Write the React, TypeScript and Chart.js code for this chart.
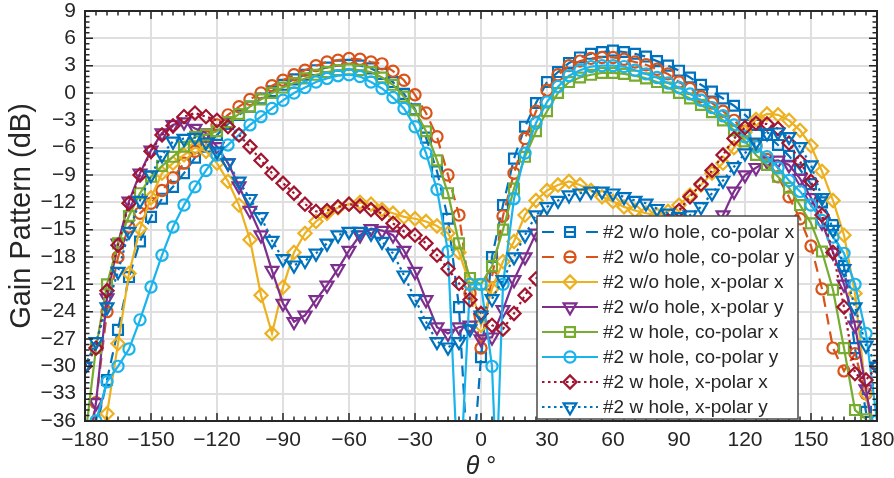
import React, { useEffect, useRef } from 'react';
import { Chart, registerables } from 'chart.js';

Chart.register(...registerables);

// ---------------- data ----------------
const theta = [
  -180, -175, -170, -165, -160, -155, -150, -145, -140, -135, -130, -125,
  -120, -115, -110, -105, -100, -95, -90, -85, -80, -75, -70, -65,
  -60, -55, -50, -45, -40, -35, -30, -25, -20, -15, -10, -5,
  0, 5, 10, 15, 20, 25, 30, 35, 40, 45, 50, 55,
  60, 65, 70, 75, 80, 85, 90, 95, 100, 105, 110, 115,
  120, 125, 130, 135, 140, 145, 150, 155, 160, 165, 170, 175,
  180,
];

const woCoX = [
  -39, -37, -31.5, -26, -20.2, -16.3, -13.6, -11.6, -10.3, -8.8, -7.1, -5.9,
  -4.6, -3.4, -2.4, -1.5, -0.6, 0.2, 0.9, 1.5, 2.0, 2.5, 2.8, 3.0,
  3.1, 3.0, 2.7, 2.1, 1.2, -0.1, -1.8, -4.9, -8.6, -13.8, -23.5, -45,
  -29, -18, -12.3, -7.2, -3.7, -1.1, 1.2, 2.3, 3.3, 3.9, 4.3, 4.5,
  4.65, 4.5, 4.3, 4.0, 3.5, 3.0, 2.45, 1.7, 0.9, 0.15, -0.6, -1.4,
  -2.4, -3.5, -4.6, -5.7, -6.9, -8.4, -10.0, -12.0, -14.5, -19, -28, -35,
  -39,
];

const woCoY = [
  -40, -34, -24, -18, -14.7, -13.2, -12.1, -10.7, -9.3, -7.7, -6.4, -4.8,
  -3.5, -2.4, -1.5, -0.7, 0.0, 0.8, 1.4, 2.0, 2.5, 3.0, 3.4, 3.6,
  3.8, 3.7, 3.4, 3.2, 2.4, 1.4, -0.2, -2.2, -4.8, -9.0, -13.4, -22,
  -28, -20.2, -13.5, -8.8, -5.0, -2.0, 0.3, 2.0, 3.0, 3.5, 3.8, 3.9,
  3.9, 3.7, 3.4, 3.1, 2.6, 2.1, 1.2, 0.5, -0.4, -1.1, -2.0, -3.0,
  -4.2, -5.7, -7.3, -9.2, -11.4, -13.8, -16.8, -21.5, -28, -30.5, -28.6, -33,
  -38,
];

const woXX = [
  -45, -40, -35.2, -27.5, -19.8, -14.9, -11.5, -8.8, -7.7, -6.8, -6.0, -6.4,
  -7.7, -9.7, -12.3, -16.1, -22.2, -26.4, -21.3, -17.5, -15.4, -14.1, -13.2, -12.6,
  -12.2, -12.0, -12.2, -12.8, -13.2, -13.6, -13.8, -14.1, -14.6, -15.4, -17.5, -21,
  -25.5, -21.5, -18.5, -16.3, -13.4, -11.8, -10.7, -10.1, -9.7, -10.1, -10.7, -11.4,
  -11.9, -12.5, -12.9, -13.2, -13.4, -13.0, -12.3, -11.2, -10.1, -8.8, -7.7, -6.0,
  -4.3, -2.9, -2.3, -2.4, -3.0, -4.1, -5.8, -8.6, -11.8, -15.6, -22, -33,
  -40,
];

const woXY = [
  -42, -34, -22.5, -16.5, -11.9, -8.8, -6.3, -4.4, -3.5, -3.2, -3.9, -4.4,
  -5.9, -7.7, -10.2, -12.9, -15.6, -19.5, -23.1, -25.1, -24.4, -22.7, -21.1, -19.3,
  -17.3, -15.6, -14.9, -15.1, -15.6, -17.3, -19.6, -22.7, -25.7, -26.4, -25.7, -25.5,
  -27, -26.8, -23.8, -20.5, -18, -15.4, -15, -16, -17.5, -19, -20.5, -22,
  -23.5, -25, -26, -26.5, -25.5, -23, -20.5, -18.5, -16.5, -15, -13.4, -10.8,
  -9.0, -8.2, -7.5, -7.4, -7.9, -9.4, -11.5, -14.2, -17.5, -21, -25.5, -32.5,
  -40,
];

const wCoX = [
  -38, -28, -21, -16.5, -13.5, -11, -9.2, -8.0, -7.0, -5.9, -4.8, -4.6,
  -4.2, -3.2, -2.3, -1.5, -0.7, 0.0, 0.6, 1.1, 1.6, 2.0, 2.3, 2.5,
  2.6, 2.5, 2.3, 1.7, 0.9, -0.4, -1.9, -4.2, -7.4, -11.0, -16.5, -20.3,
  -21, -19, -15, -10.5, -7.0, -4.2, -2.0, 0.0, 1.2, 1.7, 2.0, 2.2,
  2.2, 2.1, 1.9, 1.6, 1.2, 0.6, 0.0, -0.6, -1.3, -2.1, -3.0, -4.1,
  -5.3, -6.8, -7.9, -9.2, -10.4, -12.3, -14.3, -17.4, -21.6, -28, -34.8, -35.8,
  -40,
];

const wCoY = [
  -45, -36, -31.7, -30, -28.1, -24.9, -21.3, -17.8, -14.7, -12.3, -10.3, -8.5,
  -6.8, -5.7, -4.6, -3.5, -2.6, -1.7, -0.8, 0.0, 0.6, 1.2, 1.6, 1.9,
  2.0, 1.8, 1.2, 0.5, -0.5, -1.7, -3.7, -6.6, -10.6, -17.4, -45, -21,
  -21, -30, -21, -11.6, -6.6, -3.3, -1.0, 0.7, 1.9, 2.5, 2.9, 3.0,
  3.0, 2.9, 2.5, 2.1, 1.7, 1.1, 0.6, -0.1, -0.8, -1.6, -2.5, -3.5,
  -4.8, -5.9, -7.0, -8.2, -9.6, -10.8, -12.3, -14, -15.8, -17.6, -21, -26.4,
  -36,
];
// extra sample inside the null between 5 and 10 degrees (no marker)
const wCoYExtraTheta = [7];
const wCoYExtraVal = [-42];

const wXX = [
  -30, -28, -21.7, -16.7, -12.1, -9.0, -6.4, -4.6, -3.6, -2.6, -2.2, -2.6,
  -3.0, -3.7, -4.6, -5.9, -7.4, -8.8, -9.9, -11.0, -12.2, -13.0, -12.9, -12.5,
  -12.2, -12.4, -12.8, -13.2, -14.3, -15.2, -15.6, -16.5, -17.8, -19.3, -20.9, -22.7,
  -24.2, -25.5, -25.9, -24.2, -22.2, -20.4, -18.6, -18, -17.8, -17.8, -17.8, -17.7,
  -17.5, -17.2, -16.8, -16, -15, -14, -12.9, -11.4, -10.0, -8.5, -6.8, -5.0,
  -3.8, -3.3, -3.4, -3.9, -5.5, -7.5, -9.7, -13.4, -17.5, -23.5, -30.8, -31.5,
  -30,
];

const wXY = [
  -30, -27.3, -23.5, -19.6, -15.2, -11.8, -9.0, -6.8, -5.3, -5.0, -4.9, -5.4,
  -6.4, -7.7, -9.7, -11.6, -13.6, -16.2, -18.2, -18.9, -18.4, -17.6, -16.5, -15.6,
  -15.2, -15.2, -15.4, -16.3, -17.6, -20, -22.6, -25.1, -27.3, -27.9, -27.3, -25.9,
  -24.4, -22.6, -20.5, -18, -15.6, -13.4, -12.5, -11.8, -11.2, -11, -10.8, -10.8,
  -11, -11.4, -11.8, -12.1, -12.7, -13.2, -13.6, -13.4, -12.5, -11, -9.6, -8.1,
  -6.6, -5.4, -4.4, -4.3, -4.8, -5.9, -7.9, -11.5, -15, -19.3, -23.5, -27.7,
  -30,
];

const seriesLabels = [
  '#2 w/o hole, co-polar x',
  '#2 w/o hole, co-polar y',
  '#2 w/o hole, x-polar x',
  '#2 w/o hole, x-polar y',
  '#2 w hole, co-polar x',
  '#2 w hole, co-polar y',
  '#2 w hole, x-polar x',
  '#2 w hole, x-polar y',
];

const xTickValues = [-180, -150, -120, -90, -60, -30, 0, 30, 60, 90, 120, 150, 180];
const yTickValues = [9, 6, 3, 0, -3, -6, -9, -12, -15, -18, -21, -24, -27, -30, -33, -36];

// ---------------- styles ----------------
const FONT = '"Liberation Sans", Arial, Helvetica, sans-serif';
const AXIS_COLOR = '#262626';
const GRID_COLOR = '#dfdfdf';

type Marker = 'rect' | 'circle' | 'rectRot' | 'triDown';
type Dash = 'dashed' | 'solid' | 'dotted';

const styles: { color: string; marker: Marker; dash: Dash; r: number }[] = [
  { color: '#0072BD', marker: 'rect', dash: 'dashed', r: 7 },
  { color: '#D95319', marker: 'circle', dash: 'dashed', r: 5.6 },
  { color: '#EDB120', marker: 'rectRot', dash: 'solid', r: 6.6 },
  { color: '#7E2F8E', marker: 'triDown', dash: 'solid', r: 7.4 },
  { color: '#77AC30', marker: 'rect', dash: 'solid', r: 7 },
  { color: '#1AB4EC', marker: 'circle', dash: 'solid', r: 5.6 },
  { color: '#A2142F', marker: 'rectRot', dash: 'dotted', r: 6.6 },
  { color: '#0072BD', marker: 'triDown', dash: 'dotted', r: 7.4 },
];

const dataDash: Record<Dash, number[]> = { dashed: [11, 7], solid: [], dotted: [2.5, 3.5] };
const legendDash: Record<Dash, number[]> = { dashed: [12, 10], solid: [], dotted: [2.5, 3.5] };

function drawMarker(ctx: CanvasRenderingContext2D, m: Marker, x: number, y: number, r: number) {
  ctx.beginPath();
  if (m === 'circle') {
    ctx.arc(x, y, r, 0, Math.PI * 2);
  } else if (m === 'rect') {
    const h = r * Math.SQRT1_2;
    ctx.rect(x - h, y - h, 2 * h, 2 * h);
  } else if (m === 'rectRot') {
    ctx.moveTo(x - r, y);
    ctx.lineTo(x, y - r);
    ctx.lineTo(x + r, y);
    ctx.lineTo(x, y + r);
    ctx.closePath();
  } else {
    let rad = Math.PI;
    ctx.moveTo(x + Math.sin(rad) * r, y - Math.cos(rad) * r);
    rad += (2 * Math.PI) / 3;
    ctx.lineTo(x + Math.sin(rad) * r, y - Math.cos(rad) * r);
    rad += (2 * Math.PI) / 3;
    ctx.lineTo(x + Math.sin(rad) * r, y - Math.cos(rad) * r);
    ctx.closePath();
  }
  ctx.stroke();
}

const decorPlugin = {
  id: 'decor',
  afterDraw(chart: any) {
    const { ctx, chartArea: a, scales } = chart;
    const xs = scales.x;
    const ys = scales.y;
    ctx.save();
    ctx.setLineDash([]);
    // tick marks (inward, all four sides)
    ctx.strokeStyle = AXIS_COLOR;
    ctx.lineWidth = 1.5;
    ctx.beginPath();
    for (const t of theta) {
      const px = xs.getPixelForValue(t);
      const len = xTickValues.includes(t) ? 8 : 4.5;
      ctx.moveTo(px, a.bottom);
      ctx.lineTo(px, a.bottom - len);
      ctx.moveTo(px, a.top);
      ctx.lineTo(px, a.top + len);
    }
    for (let k = 0; k <= 75; k++) {
      const v = -36 + k * 0.6;
      const py = ys.getPixelForValue(v);
      const len = k % 5 === 0 ? 8 : 4.5;
      ctx.moveTo(a.left, py);
      ctx.lineTo(a.left + len, py);
      ctx.moveTo(a.right, py);
      ctx.lineTo(a.right - len, py);
    }
    ctx.stroke();
    // box
    ctx.lineWidth = 2;
    ctx.strokeRect(a.left, a.top, a.right - a.left, a.bottom - a.top);

    // y title
    ctx.fillStyle = AXIS_COLOR;
    ctx.font = `29px ${FONT}`;
    ctx.textAlign = 'center';
    ctx.textBaseline = 'middle';
    ctx.save();
    ctx.translate(22, (a.top + a.bottom) / 2);
    ctx.rotate(-Math.PI / 2);
    ctx.fillText('Gain Pattern (dB)', 0, 0);
    ctx.restore();

    // x title: italic theta + degree
    const cx = (a.left + a.right) / 2;
    ctx.textAlign = 'left';
    ctx.textBaseline = 'alphabetic';
    ctx.font = `italic 25px ${FONT}`;
    const w1 = ctx.measureText('θ').width;
    ctx.font = `25px ${FONT}`;
    const w2 = ctx.measureText(' °').width;
    const x0 = cx - (w1 + w2) / 2;
    ctx.font = `italic 25px ${FONT}`;
    ctx.fillText('θ', x0, 474);
    ctx.font = `25px ${FONT}`;
    ctx.fillText(' °', x0 + w1, 474);

    // legend
    const L = 537, T = 216, R = 798, B = 419;
    ctx.fillStyle = '#ffffff';
    ctx.fillRect(L, T, R - L, B - T);
    ctx.strokeStyle = '#4a4a4a';
    ctx.lineWidth = 1.5;
    ctx.strokeRect(L, T, R - L, B - T);
    ctx.font = `19px ${FONT}`;
    ctx.textBaseline = 'middle';
    ctx.textAlign = 'left';
    seriesLabels.forEach((lab, i) => {
      const st = styles[i];
      const y = 232 + i * 25;
      ctx.strokeStyle = st.color;
      ctx.lineWidth = 2.2;
      ctx.setLineDash(legendDash[st.dash]);
      ctx.beginPath();
      ctx.moveTo(542, y);
      ctx.lineTo(598, y);
      ctx.stroke();
      ctx.setLineDash([]);
      drawMarker(ctx, st.marker, 570, y, st.r);
      ctx.fillStyle = AXIS_COLOR;
      ctx.fillText(lab, 603, y + 1);
    });
    ctx.restore();
  },
};

function buildPoints(vals: number[], extraT: number[] = [], extraV: number[] = []) {
  const pts = theta.map((t, i) => ({ x: t, y: vals[i] }));
  extraT.forEach((t, i) => pts.push({ x: t, y: extraV[i] }));
  pts.sort((p, q) => p.x - q.x);
  return pts;
}

export default function App() {
  const ref = useRef<HTMLCanvasElement | null>(null);

  useEffect(() => {
    document.body.style.margin = '0';
    if (!ref.current) return;
    const all = [
      buildPoints(woCoX),
      buildPoints(woCoY),
      buildPoints(woXX),
      buildPoints(woXY),
      buildPoints(wCoX),
      buildPoints(wCoY, wCoYExtraTheta, wCoYExtraVal),
      buildPoints(wXX),
      buildPoints(wXY),
    ];
    const datasets = all.map((pts, i) => {
      const st = styles[i];
      const ps = st.marker === 'triDown' ? 'triangle' : st.marker;
      return {
        label: seriesLabels[i],
        data: pts,
        order: 7 - i,
        borderColor: st.color,
        backgroundColor: 'rgba(0,0,0,0)',
        borderWidth: 2.2,
        borderDash: dataDash[st.dash],
        pointStyle: ps,
        rotation: st.marker === 'triDown' ? 180 : 0,
        pointRadius: (c: any) => (c.raw && c.raw.x % 5 === 0 ? st.r : 0),
        pointBorderWidth: 2.2,
        pointBorderColor: st.color,
        pointBackgroundColor: 'rgba(0,0,0,0)',
        tension: 0,
        fill: false,
      };
    });

    const chart = new Chart(ref.current, {
      type: 'line',
      data: { datasets: datasets as any },
      plugins: [decorPlugin],
      options: {
        animation: false,
        responsive: true,
        maintainAspectRatio: false,
        layout: { padding: { left: 0, top: 11, right: 17, bottom: 0 } },
        plugins: { legend: { display: false }, tooltip: { enabled: false } },
        scales: {
          x: {
            type: 'linear',
            min: -180,
            max: 180,
            afterBuildTicks: (s: any) => {
              s.ticks = xTickValues.map((v) => ({ value: v }));
            },
            afterFit: (s: any) => {
              s.height = 57;
              s.paddingLeft = 0;
              s.paddingRight = 0;
            },
            grid: { color: GRID_COLOR, lineWidth: 2, drawTicks: false },
            border: { display: false },
            ticks: {
              autoSkip: false,
              maxRotation: 0,
              padding: 7,
              color: AXIS_COLOR,
              font: { family: FONT, size: 21 },
              callback: (v: any) => String(v).replace('-', '\u2212'),
            },
          },
          y: {
            type: 'linear',
            min: -36,
            max: 9,
            afterBuildTicks: (s: any) => {
              s.ticks = yTickValues.map((v) => ({ value: v }));
            },
            afterFit: (s: any) => {
              s.width = 85;
              s.paddingTop = 0;
              s.paddingBottom = 0;
            },
            grid: { color: GRID_COLOR, lineWidth: 2, drawTicks: false },
            border: { display: false },
            ticks: {
              autoSkip: false,
              padding: 9,
              color: AXIS_COLOR,
              font: { family: FONT, size: 21 },
              callback: (v: any) => String(v).replace('-', '\u2212'),
            },
          },
        },
      },
    });
    return () => chart.destroy();
  }, []);

  return (
    <div style={{ position: 'relative', width: 894, height: 478 }}>
      <canvas ref={ref} />
    </div>
  );
}
